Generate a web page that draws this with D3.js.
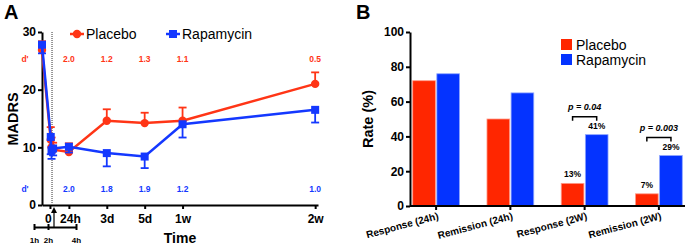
<!DOCTYPE html>
<html>
<head>
<meta charset="utf-8">
<script src="https://cdn.jsdelivr.net/npm/d3@7"></script>
<style>
  body { margin: 0; background: #fff; }
  svg { font-family: "Liberation Sans", Arial, sans-serif; }
  .axis path, .axis line { stroke: #000; stroke-width: 2; }
  .axis text { font-weight: bold; fill: #000; }
</style>
</head>
<body>
<script>
// panel A data (MADRS over time, days)
const times = [-0.42, 1/24, 2/24, 4/24, 1, 3, 5, 7, 14];
const placebo = [26.9, 11.3, 10.0, 9.6, 9.2, 14.6, 14.2, 14.6, 21.0];
const placeboErr = [1.5, 2.2, 1.7, 1.2, 1.5, 2.0, 1.8, 2.3, 2.0];
const rapamycin = [27.8, 11.8, 9.5, 9.8, 10.1, 9.0, 8.4, 14.0, 16.5];
const rapamycinErr = [1.5, 3.0, 1.5, 1.2, 1.0, 2.3, 2.0, 2.3, 2.2];
const xTicks = [0, 1, 3, 5, 7, 14];
const xTickLabels = ['0', '24h', '3d', '5d', '1w', '2w'];
const dTimes = [1, 3, 5, 7, 14];
const dPlacebo = ['2.0', '1.2', '1.3', '1.1', '0.5'];
const dRapamycin = ['2.0', '1.8', '1.9', '1.2', '1.0'];

// panel B data (rates %)
const categories = ['Response (24h)', 'Remission (24h)', 'Response (2W)', 'Remission (2W)'];
const ratePlacebo = [72, 50, 13, 7];
const rateRapamycin = [76, 65, 41, 29];
const pValues = [null, null, 'p = 0.04', 'p = 0.003'];

const red = '#ff3516';
const blue = '#1438ff';

const svg = d3.select('body').append('svg')
  .attr('width', 685)
  .attr('height', 245);

// ---------- panel A ----------
const x = d3.scaleLinear().domain([-0.42, 14.15]).range([42, 318]);
const y = d3.scaleLinear().domain([0, 30]).range([205, 32]);

svg.append('text').attr('x', 4).attr('y', 19)
  .attr('font-size', 20).attr('font-weight', 'bold').text('A');

svg.append('g').attr('class', 'axis')
  .attr('transform', 'translate(42,0)')
  .call(d3.axisLeft(y).tickValues([0, 10, 20, 30]).tickSize(4).tickSizeOuter(0))
  .call(g => g.selectAll('text').attr('font-size', 12).attr('dx', 1));

svg.append('text')
  .attr('transform', 'translate(18,119) rotate(-90)')
  .attr('text-anchor', 'middle')
  .attr('font-size', 14.5).attr('font-weight', 'bold').text('MADRS');

svg.append('text').attr('x', 180).attr('y', 243)
  .attr('text-anchor', 'middle')
  .attr('font-size', 14).attr('font-weight', 'bold').text('Time');

svg.append('g').attr('class', 'axis')
  .attr('transform', 'translate(0,205)')
  .call(d3.axisBottom(x).tickValues(xTicks).tickFormat((d, i) => xTickLabels[i]).tickSize(4).tickSizeOuter(0))
  .call(g => g.selectAll('text').attr('font-size', 12).attr('dy', '0.9em'))
  .call(g => g.selectAll('.tick').filter(d => d === 0).select('text').attr('dx', -2))
  .call(g => g.selectAll('.tick').filter(d => d === 1).select('text').attr('dx', 1));

// dotted line at end of infusion
svg.append('line')
  .attr('x1', x(2 / 24) + 0.5).attr('x2', x(2 / 24) + 0.5)
  .attr('y1', y(30)).attr('y2', y(0))
  .attr('stroke', '#777').attr('stroke-width', 1.5)
  .attr('stroke-dasharray', '1,1');

// hours inset scale
const h = d3.scaleLinear().domain([1, 4]).range([34, 76]);
svg.append('g').attr('class', 'axis')
  .attr('transform', 'translate(0,227)')
  .call(d3.axisBottom(h).tickValues([1, 2, 4]).tickFormat(d => d + 'h').tickSize(0).tickSizeOuter(0))
  .call(g => g.select('.domain').attr('stroke-width', 1))
  .call(g => g.selectAll('.tick line').attr('y1', -3).attr('y2', 3).attr('stroke-width', 1))
  .call(g => g.selectAll('text').attr('font-size', 8).attr('dy', '1.6em'));

svg.append('line')
  .attr('x1', 54).attr('x2', 54).attr('y1', 227).attr('y2', 212)
  .attr('stroke', '#000').attr('stroke-width', 1.2);
svg.append('path')
  .attr('d', 'M51,213 L54,207 L57,213 Z').attr('fill', '#000');

function drawSeries(values, errs, color, dir, square) {
  const g = svg.append('g');
  const line = d3.line().x((d, i) => x(times[i])).y(d => y(d));
  g.append('path').datum(values)
    .attr('d', line).attr('fill', 'none')
    .attr('stroke', color).attr('stroke-width', 2.5);
  values.forEach((v, i) => {
    const cx = x(times[i]);
    const y2 = y(v + dir * errs[i]);
    g.append('line').attr('x1', cx).attr('x2', cx).attr('y1', y(v)).attr('y2', y2)
      .attr('stroke', color).attr('stroke-width', 1.8);
    g.append('line').attr('x1', cx - 4).attr('x2', cx + 4).attr('y1', y2).attr('y2', y2)
      .attr('stroke', color).attr('stroke-width', 1.8);
    if (square) {
      g.append('rect').attr('x', cx - 4).attr('y', y(v) - 4)
        .attr('width', 8).attr('height', 8).attr('fill', color);
    } else {
      g.append('circle').attr('cx', cx).attr('cy', y(v)).attr('r', 4.2).attr('fill', color);
    }
  });
}
drawSeries(placebo, placeboErr, red, 1, false);
drawSeries(rapamycin, rapamycinErr, blue, -1, true);

// effect sizes
function dRow(labels, color, yy) {
  svg.append('text').attr('x', 25).attr('y', yy).attr('text-anchor', 'middle')
    .attr('font-size', 8.5).attr('font-weight', 'bold').attr('fill', color).text("d'");
  svg.selectAll(null).data(labels).enter().append('text')
    .attr('x', (d, i) => x(dTimes[i]))
    .attr('y', yy)
    .attr('text-anchor', 'middle')
    .attr('font-size', 8.5).attr('font-weight', 'bold').attr('fill', color)
    .text(d => d);
}
dRow(dPlacebo, red, 62);
dRow(dRapamycin, blue, 192);

// legend A
svg.append('line').attr('x1', 70).attr('x2', 84).attr('y1', 34).attr('y2', 34)
  .attr('stroke', red).attr('stroke-width', 2.5);
svg.append('circle').attr('cx', 77).attr('cy', 34).attr('r', 4.2).attr('fill', red);
svg.append('text').attr('x', 86).attr('y', 39).attr('font-size', 14).text('Placebo');
svg.append('line').attr('x1', 166).attr('x2', 180).attr('y1', 34).attr('y2', 34)
  .attr('stroke', blue).attr('stroke-width', 2.5);
svg.append('rect').attr('x', 169).attr('y', 30).attr('width', 8).attr('height', 8).attr('fill', blue);
svg.append('text').attr('x', 182).attr('y', 39).attr('font-size', 14).text('Rapamycin');

// ---------- panel B ----------
const x0 = d3.scaleBand().domain(categories).range([409, 686]).paddingInner(0.37).paddingOuter(0.05);
const x1 = d3.scaleBand().domain(['Placebo', 'Rapamycin']).range([0, x0.bandwidth()]).paddingInner(0.06);
const yb = d3.scaleLinear().domain([0, 100]).range([206, 32]);

svg.append('text').attr('x', 356).attr('y', 19)
  .attr('font-size', 20).attr('font-weight', 'bold').text('B');

svg.append('g').attr('class', 'axis')
  .attr('transform', 'translate(410,0)')
  .call(d3.axisLeft(yb).tickValues([0, 20, 40, 60, 80, 100]).tickSize(4).tickSizeOuter(0))
  .call(g => g.selectAll('text').attr('font-size', 12).attr('dx', 1));

svg.append('text')
  .attr('transform', 'translate(373,119) rotate(-90)')
  .attr('text-anchor', 'middle')
  .attr('font-size', 14.5).attr('font-weight', 'bold').text('Rate (%)');

const groups = svg.append('g').selectAll('g').data(categories).enter().append('g')
  .attr('transform', d => `translate(${x0(d)},0)`);
groups.append('rect')
  .attr('x', x1('Placebo')).attr('width', x1.bandwidth())
  .attr('y', (d, i) => yb(ratePlacebo[i]))
  .attr('height', (d, i) => yb(0) - yb(ratePlacebo[i]))
  .attr('fill', '#ff2600').attr('stroke', '#ff9a88').attr('stroke-width', 0.8);
groups.append('rect')
  .attr('x', x1('Rapamycin')).attr('width', x1.bandwidth())
  .attr('y', (d, i) => yb(rateRapamycin[i]))
  .attr('height', (d, i) => yb(0) - yb(rateRapamycin[i]))
  .attr('fill', '#0433ff').attr('stroke', '#8fa6ff').attr('stroke-width', 0.8);

svg.append('g').attr('class', 'axis')
  .attr('transform', 'translate(0,206)')
  .call(d3.axisBottom(x0).tickSize(4).tickSizeOuter(0))
  .call(g => g.select('.domain').attr('d', 'M410,0H686'))
  .call(g => g.selectAll('text')
    .attr('font-size', 10)
    .attr('text-anchor', 'end')
    .attr('y', 0).attr('dy', 0)
    .attr('transform', 'translate(3,13) rotate(-15)'));

// percentage labels on the 2W groups
[2, 3].forEach(i => {
  const gx = x0(categories[i]);
  svg.append('text')
    .attr('x', gx + x1('Placebo') + x1.bandwidth() / 2)
    .attr('y', yb(ratePlacebo[i]) - 6)
    .attr('text-anchor', 'middle').attr('font-size', 8.5).attr('font-weight', 'bold')
    .text(ratePlacebo[i] + '%');
  svg.append('text')
    .attr('x', gx + x1('Rapamycin') + x1.bandwidth() / 2)
    .attr('y', yb(rateRapamycin[i]) - 6)
    .attr('text-anchor', 'middle').attr('font-size', 8.5).attr('font-weight', 'bold')
    .text(rateRapamycin[i] + '%');
  const bx1 = gx + x1('Placebo') + x1.bandwidth() / 2;
  const bx2 = gx + x1('Rapamycin') + x1.bandwidth() / 2;
  const by = yb(rateRapamycin[i]) - 18;
  svg.append('path')
    .attr('d', `M${bx1},${by + 4}V${by}H${bx2}V${by + 4}`)
    .attr('fill', 'none').attr('stroke', '#000').attr('stroke-width', 1.5);
  svg.append('text')
    .attr('x', (bx1 + bx2) / 2).attr('y', by - 7)
    .attr('text-anchor', 'middle').attr('font-size', 9)
    .attr('font-weight', 'bold').attr('font-style', 'italic')
    .text(pValues[i]);
});

// legend B
svg.append('rect').attr('x', 561).attr('y', 39).attr('width', 11).attr('height', 11).attr('fill', '#ff2600');
svg.append('text').attr('x', 576).attr('y', 50).attr('font-size', 14).text('Placebo');
svg.append('rect').attr('x', 561).attr('y', 54).attr('width', 11).attr('height', 11).attr('fill', '#0433ff');
svg.append('text').attr('x', 576).attr('y', 65).attr('font-size', 14).text('Rapamycin');
</script>
</body>
</html>
